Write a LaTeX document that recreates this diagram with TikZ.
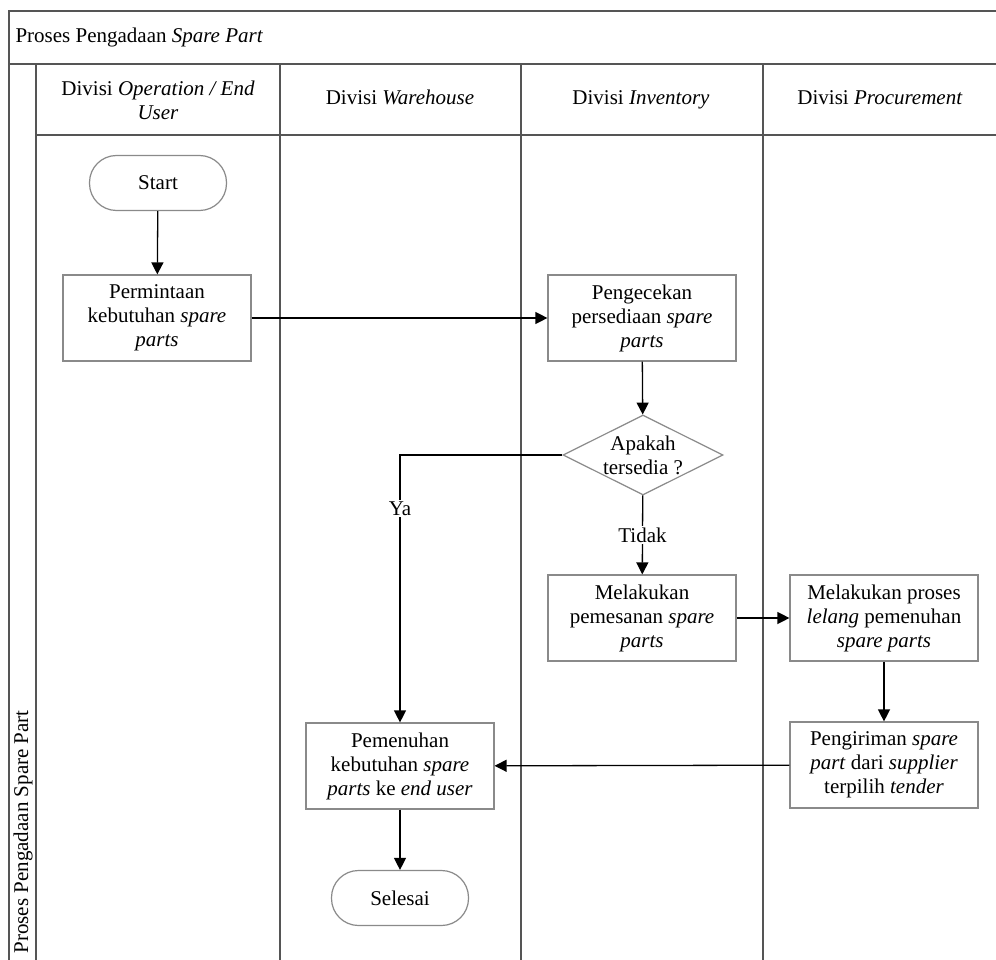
\documentclass[tikz,border=0pt]{standalone}
\usepackage{fontspec}
\setmainfont{Liberation Serif}
\usetikzlibrary{arrows.meta,shapes.geometric}
\definecolor{lanegray}{HTML}{555555}
\definecolor{boxgray}{HTML}{8A8A8A}
\begin{document}
\begin{tikzpicture}[x=1pt,y=-1pt,
  every node/.style={font=\fontsize{21}{24}\selectfont, text=black},
  lane/.style={draw=lanegray, line width=1.4pt},
  header/.style={text height=14pt, text depth=5pt, align=center},
  procbox/.style={draw=boxgray, line width=1.2pt, fill=white, minimum width=188pt, minimum height=86pt, align=center, inner sep=2pt},
  termbox/.style={draw=boxgray, line width=1.2pt, fill=white, rounded corners=27pt, minimum width=137pt, minimum height=55pt},
  decbox/.style={diamond, draw=boxgray, line width=1.2pt, fill=white, minimum width=160pt, minimum height=80pt, inner sep=-14pt, align=center},
  flow/.style={draw=black, line width=1.3pt, -{Triangle[length=12pt,width=12pt]}},
  flowlabel/.style={fill=white, inner sep=2pt}
]
\useasboundingbox (0,0) rectangle (996,960);

% pool frame and lane grid
\draw[lane] (996,11) -- (9,11) -- (9,960);
\draw[lane] (9,64) -- (996,64);
\draw[lane] (36,64) -- (36,960);
\draw[lane] (36,135) -- (996,135);
\draw[lane] (280,64) -- (280,960);
\draw[lane] (521,64) -- (521,960);
\draw[lane] (763,64) -- (763,960);

% pool title and lane headers
\node[anchor=west] (title) at (12,37) {Proses Pengadaan \textit{Spare Part}};
\node[rotate=90, anchor=west] (pool) at (23,957) {Proses Pengadaan Spare Part};
\node[align=center] (h1) at (158,100) {Divisi \textit{Operation / End}\\\textit{User}};
\node[header] (h2) at (400,100) {Divisi \textit{Warehouse}};
\node[header] (h3) at (641,100) {Divisi \textit{Inventory}};
\node[header] (h4) at (880,100) {Divisi \textit{Procurement}};

% flow steps
\node[termbox] (start) at (158,183) {Start};
\node[procbox] (minta) at (157,318) {Permintaan\\kebutuhan \textit{spare}\\\textit{parts}};
\node[procbox] (cek) at (642,318) {Pengecekan\\persediaan \textit{spare}\\\textit{parts}};
\node[decbox] (cond) at (643,455) {Apakah\\tersedia ?};
\node[procbox] (pesan) at (642,618) {Melakukan\\pemesanan \textit{spare}\\\textit{parts}};
\node[procbox] (lelang) at (884,618) {Melakukan proses\\\textit{lelang} pemenuhan\\\textit{spare parts}};
\node[procbox] (kirim) at (884,765) {Pengiriman \textit{spare}\\\textit{part} dari \textit{supplier}\\terpilih \textit{tender}};
\node[procbox] (penuhi) at (400,766) {Pemenuhan\\kebutuhan \textit{spare}\\\textit{parts} ke \textit{end user}};
\node[termbox] (selesai) at (400,898) {Selesai};

% connectors
\draw[flow] (start) -- (minta);
\draw[flow] (minta) -- (cek);
\draw[flow] (cek) -- (cond);
\draw[flow] (cond) -- node[flowlabel] (tidak) {Tidak} (pesan);
\draw[flow] (pesan) -- (lelang);
\draw[flow] (lelang) -- (kirim);
\draw[flow] (kirim) -- (penuhi);
\draw[flow] (cond.west) -| node[flowlabel, pos=0.6] (ya) {Ya} (penuhi.north);
\draw[flow] (penuhi) -- (selesai);
\end{tikzpicture}
\end{document}
